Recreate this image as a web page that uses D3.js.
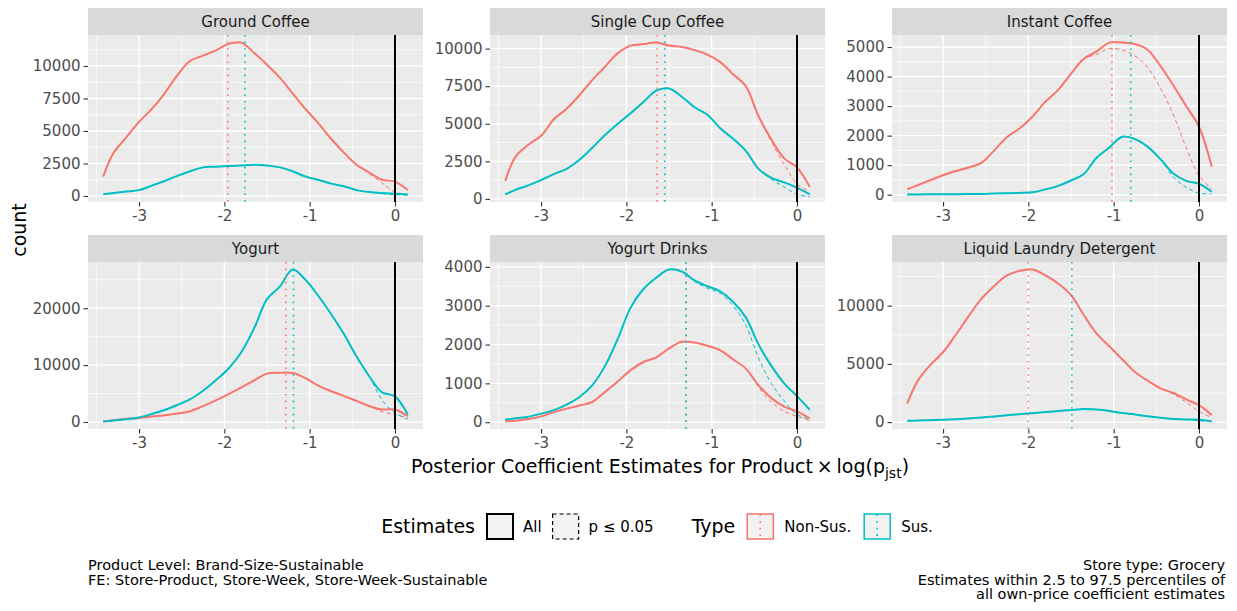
<!DOCTYPE html>
<html>
<head>
<meta charset="utf-8">
<script src="https://cdn.jsdelivr.net/npm/d3@7"></script>
<style>
  body { margin: 0; background: #fff; }
  svg { display: block; font-family: "DejaVu Sans", sans-serif; }
</style>
</head>
<body>
<svg id="chart" width="1237" height="611"></svg>
<script>
// estimate grid shared by every panel
const xs = [-3.42, -3.3, -3.15, -3.0, -2.85, -2.7, -2.55, -2.4, -2.25, -2.1, -1.95, -1.8, -1.65,
  -1.5, -1.35, -1.2, -1.05, -0.9, -0.75, -0.6, -0.45, -0.3, -0.15, 0, 0.15]

const productNames = ["Ground Coffee", "Single Cup Coffee", "Instant Coffee",
  "Yogurt", "Yogurt Drinks", "Liquid Laundry Detergent"]

// counts; "P05" = only estimates with p <= 0.05
const gcNonSus    = [1500, 3300, 4500, 5700, 6700, 7900, 9300, 10400, 10800, 11200, 11700, 11800, 11000, 10100, 9100, 7900, 6700, 5600, 4400, 3350, 2400, 1800, 1250, 1100, 450]
const gcNonSusP05 = [1500, 3300, 4500, 5700, 6700, 7900, 9300, 10400, 10800, 11200, 11700, 11800, 11000, 10100, 9100, 7900, 6700, 5600, 4400, 3350, 2400, 1700, 1000, 300, 130]
const gcSus       = [130, 230, 340, 450, 800, 1150, 1550, 1900, 2200, 2250, 2300, 2350, 2400, 2350, 2200, 1900, 1500, 1250, 950, 750, 450, 300, 220, 170, 120]
const gcSusP05    = [130, 230, 340, 450, 800, 1150, 1550, 1900, 2200, 2250, 2300, 2350, 2400, 2350, 2200, 1900, 1500, 1250, 950, 750, 450, 300, 180, 100, 60]

const scNonSus    = [1200, 2800, 3600, 4200, 5300, 6000, 6900, 7900, 8800, 9700, 10200, 10300, 10400, 10200, 10100, 9900, 9600, 9100, 8300, 7500, 5500, 3950, 2700, 2100, 800]
const scNonSusP05 = [1200, 2800, 3600, 4200, 5300, 6000, 6900, 7900, 8800, 9700, 10200, 10300, 10400, 10200, 10100, 9900, 9600, 9100, 8300, 7500, 5500, 3800, 2300, 1000, 500]
const scSus       = [300, 600, 900, 1250, 1650, 2000, 2600, 3400, 4250, 5000, 5700, 6450, 7200, 7350, 6800, 6100, 5600, 4700, 4000, 3200, 2000, 1400, 1100, 750, 300]
const scSusP05    = [300, 600, 900, 1250, 1650, 2000, 2600, 3400, 4250, 5000, 5700, 6450, 7200, 7350, 6800, 6100, 5600, 4700, 4000, 3200, 2000, 1300, 800, 300, 150]

const icNonSus    = [180, 320, 490, 660, 800, 920, 1080, 1500, 1950, 2250, 2650, 3150, 3550, 4100, 4600, 4850, 5150, 5150, 5100, 4900, 4350, 3700, 3000, 2300, 950]
const icNonSusP05 = [180, 320, 490, 660, 800, 920, 1080, 1500, 1950, 2250, 2650, 3150, 3550, 4100, 4600, 4750, 4950, 4900, 4700, 4300, 3600, 2700, 1600, 650, 200]
const icSus       = [10, 10, 15, 15, 15, 20, 25, 40, 50, 60, 80, 180, 300, 480, 700, 1250, 1600, 1960, 1880, 1620, 1200, 720, 470, 370, 100]
const icSusP05    = [10, 10, 15, 15, 15, 20, 25, 40, 50, 60, 80, 180, 300, 480, 700, 1250, 1600, 1960, 1880, 1620, 1200, 600, 250, 50, 30]

const yoNonSus    = [100, 300, 550, 700, 950, 1200, 1500, 1900, 2800, 3800, 4900, 6100, 7300, 8500, 8650, 8600, 7700, 6400, 5400, 4600, 3700, 2800, 2200, 2200, 1000]
const yoNonSusP05 = [100, 300, 550, 700, 950, 1200, 1500, 1900, 2800, 3800, 4900, 6100, 7300, 8500, 8650, 8600, 7700, 6400, 5400, 4600, 3700, 2800, 1800, 1300, 700]
const yoSus       = [100, 250, 500, 800, 1400, 2100, 3000, 4000, 5500, 7350, 9400, 12300, 16500, 21600, 23800, 26800, 25000, 22200, 19000, 15500, 11500, 8000, 5200, 4500, 1300]
const yoSusP05    = [100, 250, 500, 800, 1400, 2100, 3000, 4000, 5500, 7350, 9400, 12300, 16500, 21600, 23800, 26800, 25000, 22200, 19000, 15500, 11500, 8000, 3800, 1600, 500]

const ydNonSus    = [20, 40, 80, 150, 260, 350, 430, 520, 780, 1050, 1340, 1550, 1670, 1900, 2070, 2050, 1970, 1850, 1620, 1380, 950, 620, 400, 280, 100]
const ydNonSusP05 = [20, 40, 80, 150, 260, 350, 430, 520, 780, 1050, 1340, 1550, 1670, 1900, 2070, 2050, 1970, 1850, 1620, 1380, 900, 520, 280, 150, 40]
const ydSus       = [60, 100, 140, 220, 310, 450, 650, 950, 1450, 2150, 2950, 3430, 3720, 3930, 3880, 3650, 3500, 3370, 3100, 2700, 2000, 1450, 1000, 670, 320]
const ydSusP05    = [60, 100, 140, 220, 310, 450, 650, 950, 1450, 2150, 2950, 3430, 3720, 3930, 3880, 3620, 3450, 3320, 3000, 2500, 1650, 1000, 550, 200, 80]

const llNonSus    = [1600, 3500, 4900, 6000, 7500, 9100, 10600, 11700, 12600, 13000, 13100, 12600, 11900, 10900, 9200, 7600, 6500, 5400, 4300, 3550, 2900, 2500, 1950, 1450, 600]
const llNonSusP05 = [1600, 3500, 4900, 6000, 7500, 9100, 10600, 11700, 12600, 13000, 13100, 12600, 11900, 10900, 9200, 7600, 6500, 5400, 4300, 3550, 2900, 2400, 1700, 900, 400]
const llSus       = [110, 130, 160, 200, 250, 320, 400, 480, 580, 680, 770, 860, 950, 1040, 1120, 1080, 960, 780, 660, 500, 370, 270, 220, 200, 60]
const llSusP05    = [110, 130, 160, 200, 250, 320, 400, 480, 580, 680, 770, 860, 950, 1040, 1120, 1080, 960, 780, 660, 500, 370, 270, 220, 120, 50]

// dotted reference lines, one per type and product
const nonSusMean = [-1.96, -1.64, -1.02, -1.28, -1.30, -2.0]
const susMean    = [-1.76, -1.55, -0.80, -1.19, -1.30, -1.49]

const xTicks = [-3, -2, -1, 0]
const yTickSets = [
  [0, 2500, 5000, 7500, 10000],
  [0, 2500, 5000, 7500, 10000],
  [0, 1000, 2000, 3000, 4000, 5000],
  [0, 10000, 20000],
  [0, 1000, 2000, 3000, 4000],
  [0, 5000, 10000]
]

const typeLabels = ["Non-Sus.", "Sus."]
const estimateLabels = ["All", "p \u2264 0.05"]

const RED = '#F8766D', TEAL = '#00BFC4'

const panels = [
  [gcNonSus, gcNonSusP05, gcSus, gcSusP05],
  [scNonSus, scNonSusP05, scSus, scSusP05],
  [icNonSus, icNonSusP05, icSus, icSusP05],
  [yoNonSus, yoNonSusP05, yoSus, yoSusP05],
  [ydNonSus, ydNonSusP05, ydSus, ydSusP05],
  [llNonSus, llNonSusP05, llSus, llSusP05]
].map((s, i) => ({
  name: productNames[i],
  nonSus: s[0], nonSusP05: s[1], sus: s[2], susP05: s[3],
  yTicks: yTickSets[i],
  nonSusMean: nonSusMean[i], susMean: susMean[i]
}))

const svg = d3.select('#chart')
const panelW = 335, panelH = 167, stripH = 27
const colX = [88, 490, 892]
const rowY = [35, 262]

const xExt = d3.extent(xs)
const xPad = (xExt[1] - xExt[0]) * 0.05
const xDomain = [xExt[0] - xPad, xExt[1] + xPad]

function minorBreaks(major, domain) {
  const step = major[1] - major[0]
  const out = []
  for (let v = major[0] - step / 2; v <= domain[1]; v += step) {
    if (v >= domain[0]) out.push(v)
  }
  return out
}

panels.forEach((p, i) => {
  const x0 = colX[i % 3], y0 = rowY[Math.floor(i / 3)]
  const g = svg.append('g')

  const all = p.nonSus.concat(p.sus)
  const yMin = d3.min(all), yMax = d3.max(all)
  const yPad = (yMax - yMin) * 0.05
  const x = d3.scaleLinear().domain(xDomain).range([x0, x0 + panelW])
  const y = d3.scaleLinear().domain([yMin - yPad, yMax + yPad]).range([y0 + panelH, y0])

  // strip
  g.append('rect').attr('x', x0).attr('y', y0 - stripH).attr('width', panelW).attr('height', stripH)
    .attr('fill', '#D9D9D9')
  g.append('text').attr('x', x0 + panelW / 2).attr('y', y0 - stripH / 2).attr('dy', '0.36em')
    .attr('text-anchor', 'middle').style('font-size', '15px').attr('fill', '#1A1A1A').text(p.name)

  // panel background and grid
  g.append('rect').attr('x', x0).attr('y', y0).attr('width', panelW).attr('height', panelH)
    .attr('fill', '#EBEBEB')
  minorBreaks(p.yTicks, y.domain()).forEach(v => {
    g.append('line').attr('x1', x0).attr('x2', x0 + panelW).attr('y1', y(v)).attr('y2', y(v))
      .attr('stroke', '#fff').attr('stroke-width', 0.7)
  })
  minorBreaks(xTicks, xDomain).forEach(v => {
    g.append('line').attr('y1', y0).attr('y2', y0 + panelH).attr('x1', x(v)).attr('x2', x(v))
      .attr('stroke', '#fff').attr('stroke-width', 0.7)
  })
  p.yTicks.forEach(v => {
    g.append('line').attr('x1', x0).attr('x2', x0 + panelW).attr('y1', y(v)).attr('y2', y(v))
      .attr('stroke', '#fff').attr('stroke-width', 1.4)
  })
  xTicks.forEach(v => {
    g.append('line').attr('y1', y0).attr('y2', y0 + panelH).attr('x1', x(v)).attr('x2', x(v))
      .attr('stroke', '#fff').attr('stroke-width', 1.4)
  })

  // axes (plain hyphen minus, like the original)
  const xAxis = d3.axisBottom(x).tickValues(xTicks).tickSize(4.5).tickPadding(4).tickFormat(d => String(d))
  const yAxis = d3.axisLeft(y).tickValues(p.yTicks).tickSize(4.5).tickPadding(3).tickFormat(d => String(d))
  const ax = g.append('g').attr('transform', `translate(0,${y0 + panelH})`).call(xAxis)
  const ay = g.append('g').attr('transform', `translate(${x0},0)`).call(yAxis)
  ;[ax, ay].forEach(a => {
    a.select('.domain').remove()
    a.selectAll('.tick line').attr('stroke', '#333333').attr('stroke-width', 1.1)
    a.selectAll('.tick text').attr('fill', '#4D4D4D').style('font-size', '15px')
      .style('font-family', '"DejaVu Sans", sans-serif')
  })

  const line = d3.line().x((d, j) => x(xs[j])).y(d => y(d)).curve(d3.curveCatmullRom.alpha(0.5))

  // significant-only estimates (dashed, thin) under the full ones
  ;[[p.nonSusP05, RED], [p.susP05, TEAL]].forEach(([s, c]) => {
    g.append('path').attr('d', line(s)).attr('fill', 'none').attr('stroke', c)
      .attr('stroke-width', 1).attr('stroke-dasharray', '4,3')
  })
  ;[[p.nonSus, RED], [p.sus, TEAL]].forEach(([s, c]) => {
    g.append('path').attr('d', line(s)).attr('fill', 'none').attr('stroke', c)
      .attr('stroke-width', 2).attr('stroke-linejoin', 'round')
  })

  ;[[p.nonSusMean, RED], [p.susMean, TEAL]].forEach(([m, c]) => {
    g.append('line').attr('x1', x(m)).attr('x2', x(m)).attr('y1', y0).attr('y2', y0 + panelH)
      .attr('stroke', c).attr('stroke-width', 1.6).attr('stroke-dasharray', '1.6,5')
  })

  g.append('line').attr('x1', x(0)).attr('x2', x(0)).attr('y1', y0).attr('y2', y0 + panelH)
    .attr('stroke', '#000').attr('stroke-width', 2)
})

// axis titles
svg.append('text').attr('transform', 'translate(26,230) rotate(-90)').attr('text-anchor', 'middle')
  .style('font-size', '19px').text('count')

const xt = svg.append('text').attr('x', 660).attr('y', 473).attr('text-anchor', 'middle')
  .style('font-size', '19px')
xt.append('tspan').text('Posterior Coefficient Estimates for Product\u2009\u00D7\u2009log(p')
xt.append('tspan').attr('dy', 5).style('font-size', '14px').text('jst')
xt.append('tspan').attr('dy', -5).text(')')

// legend
const legend = svg.append('g')
const ly = 526.5
let cx = 0
function legendText(t, size) {
  const el = legend.append('text').attr('x', cx).attr('y', ly).attr('dy', '0.36em')
    .style('font-size', size + 'px').text(t)
  cx += el.node().getComputedTextLength()
}
function legendKey(stroke, dash, width, dotted) {
  legend.append('rect').attr('x', cx).attr('y', ly - 13.5).attr('width', 28).attr('height', 27)
    .attr('fill', '#F2F2F2')
  legend.append('rect').attr('x', cx + 1).attr('y', ly - 12.5).attr('width', 26).attr('height', 25)
    .attr('fill', 'none').attr('stroke', stroke).attr('stroke-width', width)
    .attr('stroke-dasharray', dash)
  if (dotted) {
    legend.append('line').attr('x1', cx + 14).attr('x2', cx + 14).attr('y1', ly - 12).attr('y2', ly + 12)
      .attr('stroke', stroke).attr('stroke-width', 1.6).attr('stroke-dasharray', '1.6,5')
  }
  cx += 28
}
legendText('Estimates', 19); cx += 11
legendKey('#000', null, 2, false); cx += 9
legendText(estimateLabels[0], 15); cx += 10
legendKey('#000', '4,3', 1.2, false); cx += 9
legendText(estimateLabels[1], 15); cx += 38
legendText('Type', 19); cx += 11
legendKey(RED, null, 1.5, true); cx += 10
legendText(typeLabels[0], 15); cx += 12
legendKey(TEAL, null, 1.5, true); cx += 10
legendText(typeLabels[1], 15)
legend.attr('transform', `translate(${657 - cx / 2},0)`)

// captions
const leftCaption = ['Product Level: Brand-Size-Sustainable', 'FE: Store-Product, Store-Week, Store-Week-Sustainable']
const rightCaption = ['Store type: Grocery', 'Estimates within 2.5 to 97.5 percentiles of', 'all own-price coefficient estimates']
leftCaption.forEach((t, i) => {
  svg.append('text').attr('x', 88).attr('y', 570 + i * 14.5).style('font-size', '14.5px').text(t)
})
rightCaption.forEach((t, i) => {
  svg.append('text').attr('x', 1225).attr('y', 570 + i * 14.5).attr('text-anchor', 'end')
    .style('font-size', '14.5px').text(t)
})
</script>
</body>
</html>
